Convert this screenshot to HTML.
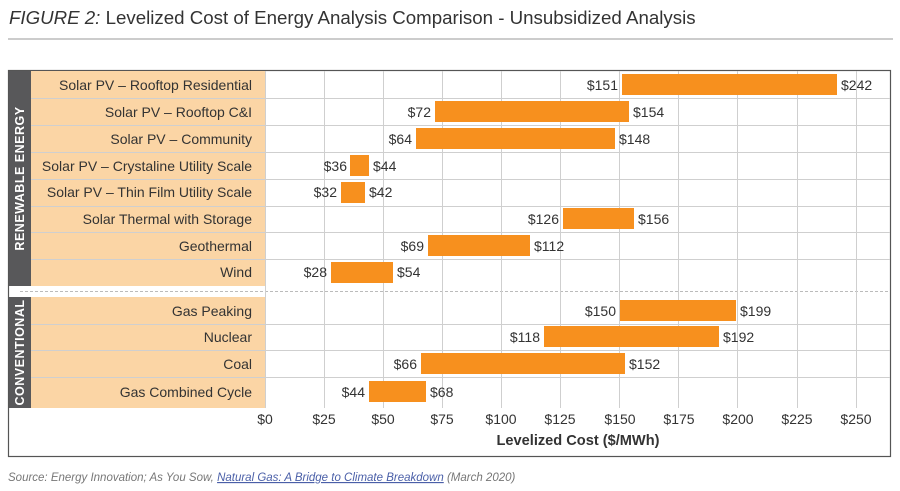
<!DOCTYPE html>
<html><head><meta charset="utf-8"><style>
html,body{margin:0;padding:0;background:#fff;width:900px;height:491px;overflow:hidden}
svg{display:block}
text{font-family:"Liberation Sans",Arial,sans-serif}
</style></head><body>
<svg width="900" height="491" viewBox="0 0 900 491" xmlns="http://www.w3.org/2000/svg">
<text x="9" y="24" font-size="18.7" fill="#333"><tspan font-style="italic">FIGURE 2:</tspan> Levelized Cost of Energy Analysis Comparison - Unsubsidized Analysis</text>
<line x1="8" y1="39" x2="893" y2="39" stroke="#999" stroke-width="1"/>
<rect x="8.5" y="70.5" width="882" height="386" fill="#fff" stroke="#555" stroke-width="1.2"/>
<rect x="9" y="71" width="22" height="215" fill="#58585a"/>
<rect x="9" y="297" width="22" height="111" fill="#58585a"/>
<rect x="31" y="71" width="234" height="215" fill="#fbd5a5"/>
<rect x="31" y="297" width="234" height="111" fill="#fbd5a5"/>
<text transform="translate(24,178.5) rotate(-90)" text-anchor="middle" font-size="12.5" font-weight="bold" fill="#fff" letter-spacing="0.5">RENEWABLE ENERGY</text>
<text transform="translate(24,352.5) rotate(-90)" text-anchor="middle" font-size="12.5" font-weight="bold" fill="#fff" letter-spacing="0.5">CONVENTIONAL</text>
<g stroke="#cfcfcf" stroke-width="1">
<line x1="31" y1="98.5" x2="890" y2="98.5"/>
<line x1="31" y1="125.5" x2="890" y2="125.5"/>
<line x1="31" y1="152.5" x2="890" y2="152.5"/>
<line x1="31" y1="179.5" x2="890" y2="179.5"/>
<line x1="31" y1="206.5" x2="890" y2="206.5"/>
<line x1="31" y1="232.5" x2="890" y2="232.5"/>
<line x1="31" y1="259.5" x2="890" y2="259.5"/>
<line x1="31" y1="324.5" x2="890" y2="324.5"/>
<line x1="31" y1="350.5" x2="890" y2="350.5"/>
<line x1="31" y1="377.5" x2="890" y2="377.5"/>
</g>
<line x1="20" y1="291.5" x2="890" y2="291.5" stroke="#bbb" stroke-dasharray="3,2"/>
<g stroke="#cfcfcf" stroke-width="1">
<line x1="265.5" y1="71" x2="265.5" y2="408"/>
<line x1="324.5" y1="71" x2="324.5" y2="408"/>
<line x1="383.5" y1="71" x2="383.5" y2="408"/>
<line x1="442.5" y1="71" x2="442.5" y2="408"/>
<line x1="501.5" y1="71" x2="501.5" y2="408"/>
<line x1="560.5" y1="71" x2="560.5" y2="408"/>
<line x1="619.5" y1="71" x2="619.5" y2="408"/>
<line x1="678.5" y1="71" x2="678.5" y2="408"/>
<line x1="737.5" y1="71" x2="737.5" y2="408"/>
<line x1="797.5" y1="71" x2="797.5" y2="408"/>
<line x1="856.5" y1="71" x2="856.5" y2="408"/>
</g>
<g font-size="14" fill="#333" text-anchor="end">
<text x="252" y="90">Solar PV – Rooftop Residential</text>
<text x="252" y="117">Solar PV – Rooftop C&amp;I</text>
<text x="252" y="144">Solar PV – Community</text>
<text x="252" y="171">Solar PV – Crystaline Utility Scale</text>
<text x="252" y="197">Solar PV – Thin Film Utility Scale</text>
<text x="252" y="224">Solar Thermal with Storage</text>
<text x="252" y="251">Geothermal</text>
<text x="252" y="277">Wind</text>
<text x="252" y="316">Gas Peaking</text>
<text x="252" y="342">Nuclear</text>
<text x="252" y="369">Coal</text>
<text x="252" y="397">Gas Combined Cycle</text>
</g>
<g fill="#f7901e">
<rect x="622" y="74" width="215" height="21"/>
<rect x="435" y="101" width="194" height="21"/>
<rect x="416" y="128" width="199" height="21"/>
<rect x="350" y="155" width="19" height="21"/>
<rect x="341" y="182" width="24" height="21"/>
<rect x="563" y="208" width="71" height="21"/>
<rect x="428" y="235" width="102" height="21"/>
<rect x="331" y="262" width="62" height="21"/>
<rect x="620" y="300" width="116" height="21"/>
<rect x="544" y="326" width="175" height="21"/>
<rect x="421" y="353" width="204" height="21"/>
<rect x="369" y="381" width="57" height="21"/>
</g>
<g font-size="14" fill="#333">
<g text-anchor="end">
<text x="618" y="90">$151</text>
<text x="431" y="117">$72</text>
<text x="412" y="144">$64</text>
<text x="347" y="171">$36</text>
<text x="337" y="197">$32</text>
<text x="559" y="224">$126</text>
<text x="424" y="251">$69</text>
<text x="327" y="277">$28</text>
<text x="616" y="316">$150</text>
<text x="540" y="342">$118</text>
<text x="417" y="369">$66</text>
<text x="365" y="397">$44</text>
</g>
<text x="841" y="90">$242</text>
<text x="633" y="117">$154</text>
<text x="619" y="144">$148</text>
<text x="373" y="171">$44</text>
<text x="369" y="197">$42</text>
<text x="638" y="224">$156</text>
<text x="534" y="251">$112</text>
<text x="397" y="277">$54</text>
<text x="740" y="316">$199</text>
<text x="723" y="342">$192</text>
<text x="629" y="369">$152</text>
<text x="430" y="397">$68</text>
</g>
<g font-size="14" fill="#333" text-anchor="middle">
<text x="265" y="424">$0</text>
<text x="324" y="424">$25</text>
<text x="383" y="424">$50</text>
<text x="442" y="424">$75</text>
<text x="501" y="424">$100</text>
<text x="560" y="424">$125</text>
<text x="620" y="424">$150</text>
<text x="679" y="424">$175</text>
<text x="738" y="424">$200</text>
<text x="797" y="424">$225</text>
<text x="856" y="424">$250</text>
</g>
<text x="578" y="445" font-size="14.6" font-weight="bold" fill="#333" text-anchor="middle">Levelized Cost ($/MWh)</text>
<text x="8" y="481" font-size="11.5" font-style="italic" fill="#777">Source: Energy Innovation; As You Sow, <tspan fill="#4a5fa8" text-decoration="underline">Natural Gas: A Bridge to Climate Breakdown</tspan> (March 2020)</text>
</svg>
</body></html>
